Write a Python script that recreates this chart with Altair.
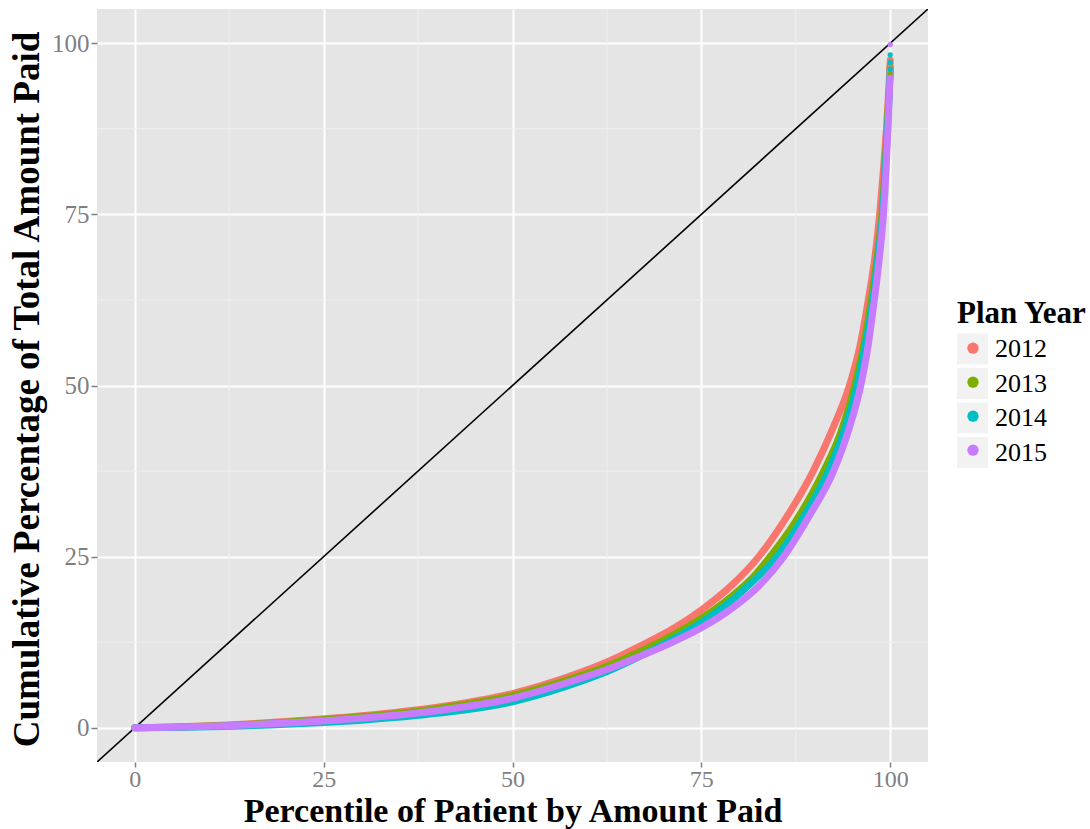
import altair as alt
import pandas as pd

years = ["2012", "2013", "2014", "2015"]
colors = ["#F8766D", "#7CAE00", "#00BFC4", "#C77CFF"]

# Lorenz curves: percentile (p) -> cumulative % (v)
p_2012 = [0, 5, 10, 20, 30, 40, 50, 57, 62.5, 67, 71, 75, 79, 82.6, 86, 89.8, 92.5, 94.6, 96, 97.1, 98, 98.6, 99.1, 99.5, 99.8, 100]
v_2012 = [0, 0.1, 0.3, 0.9, 1.75, 3.0, 5.0, 7.3, 9.6, 12.0, 14.3, 17.2, 20.8, 25, 30.3, 37.5, 44, 50, 55.8, 62.5, 69, 75, 81.5, 87.5, 93, 97.5]
p_2013 = [0, 5, 10, 20, 30, 40, 50, 57, 62.5, 67, 71, 75, 79, 82, 84.1, 87.5, 91.2, 93.5, 95.3, 96.5, 97.5, 98.3, 98.9, 99.3, 99.6, 99.85, 100]
v_2013 = [0, 0.08, 0.25, 0.8, 1.6, 2.8, 4.7, 6.9, 9.0, 11.2, 13.4, 16.0, 19.2, 22.2, 25, 30.2, 37.5, 43.3, 50, 56, 62.5, 69, 75, 81.5, 87.5, 93, 96.5]
p_2014 = [0, 5, 10, 20, 30, 40, 50, 57, 62.5, 67, 71, 75, 79, 82, 85, 88.5, 91.8, 94, 95.6, 96.7, 97.7, 98.4, 99.0, 99.35, 99.65, 99.88, 100]
v_2014 = [0, 0.05, 0.15, 0.5, 1.1, 2.1, 3.8, 6.0, 8.2, 10.5, 12.8, 15.4, 18.6, 21.6, 25, 30.8, 37.5, 43.8, 50, 56, 62.5, 69, 75, 81.5, 87.5, 93, 96]
p_2015 = [0, 5, 10, 20, 30, 40, 50, 57, 62.5, 67, 71, 75, 79, 82.5, 85.9, 89.2, 92.5, 94.5, 96.1, 97.1, 97.9, 98.6, 99.1, 99.45, 99.7, 99.9, 100]
v_2015 = [0, 0.08, 0.22, 0.7, 1.4, 2.5, 4.3, 6.5, 8.5, 10.5, 12.4, 14.6, 17.4, 20.6, 25, 30.8, 37.5, 43.5, 50, 56, 62.5, 69, 75, 81.5, 87.5, 93, 96]

# separate top points at p = 100
top_year = ["2012", "2012", "2013", "2014", "2014", "2014", "2015", "2015"]
top_v = [96.5, 97.6, 95.5, 96.2, 97.2, 98.3, 95.0, 99.8]

diag = [-10, 110]
ticks = [0, 25, 50, 75, 100]
minor = [12.5, 37.5, 62.5, 87.5]

rows = []
for y, ps, vs in zip(years, [p_2012, p_2013, p_2014, p_2015], [v_2012, v_2013, v_2014, v_2015]):
    for p, v in zip(ps, vs):
        rows.append({"year": y, "p": p, "v": v})
curves = pd.DataFrame(rows)
tops = pd.DataFrame({"year": top_year, "p": [100] * len(top_year), "v": top_v})
tops["box"] = tops["year"]
diag_df = pd.DataFrame({"p": diag, "v": diag})
minor_df = pd.DataFrame({"p": minor, "v": minor})

FONT = "Liberation Serif"
XT = "Percentile of Patient by Amount Paid"
YT = "Cumulative Percentage of Total Amount Paid"
xs = alt.Scale(domain=[-5, 105], nice=False, zero=False)
ys = alt.Scale(domain=[-5, 105], nice=False, zero=False)

common = dict(values=ticks, grid=True, gridColor="white", gridWidth=2,
              domain=False, tickColor="#7F7F7F", tickWidth=1.5,
              labelColor="#7F7F7F", labelFont=FONT,
              titleFont=FONT,
              titleFontWeight="bold", titleColor="black", titleBaseline="alphabetic")
xaxis = alt.Axis(titleY=59.5, tickSize=5, labelPadding=0, labelFontSize=24,
                 titleFontSize=34, **common)
yaxis = alt.Axis(titleX=-59, titleY=380, tickSize=6, labelPadding=2, labelFontSize=25,
                 titleFontSize=37, **common)

X = alt.X("p:Q", scale=xs, axis=xaxis, title=XT)
Y = alt.Y("v:Q", scale=ys, axis=yaxis, title=YT)

# legend key backgrounds (grey boxes) with labels and title
box_layer = alt.Chart(tops).mark_point(shape="square", filled=True, opacity=0).encode(
    x=X, y=Y,
    color=alt.Color("box:N", scale=alt.Scale(range=["#F2F2F2"] * 4),
                    legend=alt.Legend(title="Plan Year", orient="none", legendX=860, legendY=290,
                                      symbolType="square", symbolSize=961, symbolStrokeWidth=0,
                                      titleFont=FONT, titleFontSize=31, titleFontWeight="bold",
                                      titleColor="black", titlePadding=3.5,
                                      labelFont=FONT, labelFontSize=26, labelColor="black",
                                      labelOffset=7, rowPadding=3.5, zindex=1)),
)

vminor = alt.Chart(minor_df).mark_rule(color="#F0F0F0", strokeWidth=1).encode(x=X)
hminor = alt.Chart(minor_df).mark_rule(color="#F0F0F0", strokeWidth=1).encode(y=Y)

diag_layer = alt.Chart(diag_df).mark_line(color="black", strokeWidth=1.6, clip=True).encode(
    x=X, y=Y)

lines = alt.Chart(curves).mark_line(strokeWidth=7, strokeCap="round", interpolate="monotone").encode(
    x=X, y=Y,
    stroke=alt.Stroke("year:N", scale=alt.Scale(range=colors), legend=None),
)

dots = alt.Chart(tops).mark_circle(size=28, opacity=1).encode(
    x=X, y=Y,
    fill=alt.Fill("year:N", scale=alt.Scale(domain=years, range=colors), title=None,
                  legend=alt.Legend(orient="none", legendX=870, legendY=333.2,
                                    symbolType="circle", symbolSize=127, symbolStrokeWidth=0,
                                    symbolOpacity=1,
                                    labelFontSize=1, labelColor="transparent",
                                    rowPadding=22, zindex=2)),
)

chart = alt.layer(box_layer, vminor, hminor, diag_layer, lines, dots).properties(
    width=831, height=753,
    autosize=alt.AutoSizeParams(type="none"),
    padding={"left": 97, "top": 9, "right": 162, "bottom": 67},
    background="white",
).configure_view(fill="#E5E5E5", strokeWidth=0)

chart.save("out.html", embed_options={"renderer": "svg", "actions": False})
